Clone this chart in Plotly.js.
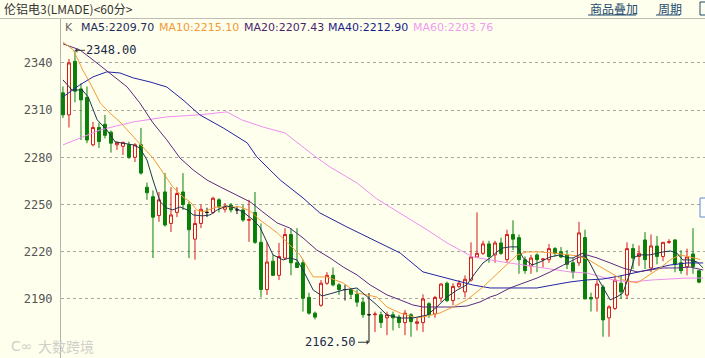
<!DOCTYPE html>
<html>
<head>
<meta charset="utf-8">
<script src="https://cdn.plot.ly/plotly-3.0.1.min.js"></script>
<style>
html,body{margin:0;padding:0;background:#ffffee;}
#chart{width:705px;height:358px;}
</style>
</head>
<body>
<div id="chart"></div>
<script>
// ---- data (60-minute bars, LME aluminium) ----
const openP = [2321,2307,2341,2323.5,2318,2288,2299,2301,2296,2288,
 2287,2288,2280,2288,2261,2255,2243,2258,2238,2245,
 2258,2250,2228,2238,2245,2245,2253,2247,2249.7,2246.6,
 2246.6,2240,2245,2226,2196,2214,2205,2216,2231,2213,
 2213,2191,2181,2186,2200,2205,2199,2196,2196,2193,
 2188,2180,2180,2180,2178,2180,2178.5,2175,2180,2174.5,
 2175,2187,2180.5,2190.6,2200,2189,2198,2194.5,2202,2216.7,
 2219,2225,2218,2225.6,2215,2231,2229,2215,2211,2218,
 2215,2215,2222,2220,2218,2213,2213,2229,2191,2190.6,
 2197.6,2178,2184,2200,2192.5,2222,2217,2227.5,2209.7,2223.6,
 2217,2226,2227.5,2213,2210.5,2218.6,2208];
const highP = [2325,2342.5,2348,2327,2325,2302.5,2302,2307,2297,2290,
 2290,2290,2289,2298.7,2264,2259,2258,2270,2261,2261,
 2270,2252,2246.6,2250,2248,2255,2254,2251,2251,2249,
 2249.7,2253,2258,2238,2226,2218,2225.6,2235,2235,2235,
 2215,2194,2182,2202,2207,2210,2200,2199,2197,2196,
 2191,2193.8,2182,2182,2182,2182,2180,2183,2181,2178,
 2193,2188,2192,2200,2201,2200,2202,2205,2226,2245,
 2227,2227,2227,2229,2234,2240,2231,2217,2218,2219,
 2216,2225,2223,2223,2221,2216,2239,2234,2194,2202,
 2199,2186,2204,2205,2226,2225,2224,2232.5,2231,2230,
 2226,2228,2228,2221,2222,2235,2208];
const lowP = [2305,2299,2315,2291,2289,2287,2286,2292,2283,2284.7,
 2281.5,2279,2277,2269,2253,2216,2239,2236,2232.6,2242,
 2246.6,2216,2215,2235,2242,2244,2245,2245,2245,2244,
 2239,2226.3,2225,2191,2192.6,2205,2202,2215,2205,2210,
 2182,2180,2177,2185,2199,2198,2192.6,2189,2190,2185,
 2178,2162.5,2169,2171.5,2167,2170,2171.5,2167,2166,2170,
 2169,2178,2178,2188,2188,2186,2197,2191,2201,2216,
 2218,2213,2213,2218,2213,2221,2206,2206,2206,2207,
 2210,2213,2217,2216,2209,2203,2211,2190,2182,2182,
 2166,2166,2183,2190,2190,2209,2211,2209,2207,2212,
 2214,2225,2207,2206,2205,2206,2200];
const closeP = [2307,2340,2322,2316.5,2291,2299,2290,2294,2289,2289.5,
 2289.5,2280,2288,2270,2257.5,2242,2253,2237,2243.4,2257,
 2250,2234,2238,2247,2245,2254,2248.5,2249,2246.6,2246.6,
 2240.2,2240.4,2226,2196,2213.5,2205,2217,2231,2213,2210,
 2190.5,2181,2178.5,2200,2205,2199,2196,2196,2193,2188,
 2180,2180,2180.4,2175,2180,2178,2175,2181,2175.6,2175.5,
 2190,2180,2191,2199.5,2189,2198,2200,2202.5,2216.7,2219,
 2225,2217,2225.6,2219,2231,2228,2215,2208,2216,2215,
 2215.4,2222,2219,2216.7,2212,2207,2232,2190,2190,2199.5,
 2176.7,2185,2202,2194.5,2222,2216,2219,2215,2223.7,2217,
 2226,2226.4,2212,2208,2216.7,2210.5,2200.7];

// moving-average lines (bar index, value)
const ma5X = [0,1.5,3.2,4.2,5.7,7.3,8.7,11.7,12.8,14,15,16.2,17.3,18.3,19.5,20.7,21.7,23.3,24.5,25.7,27.3,28.7,30,31.7,32.8,34,35,36.7,37.8,39,40,41.7,43.2,45,46.7,49,50.7,52.3,54,56.2,58.3,60.7,62.3,64,65.7,67.3,68.7,70,71.2,72.3,73.3,74.5,75.7,76.7,78.2,79.5,81.2,82.8,84,85,86.7,87.8,89,90,91.2,92.3,93.3,94.5,95.3,96.2,97.8,100,101.2,102.3,103.3,104.5,105.7,106.7];
const ma5Y = [2329.2,2322.8,2322.8,2318.4,2303.8,2297.4,2289.8,2287.9,2286,2278.3,2265.6,2251.7,2247.8,2246.6,2248.5,2246.6,2243.4,2242.8,2243.4,2246.6,2249.1,2247.8,2245.3,2240.2,2235.8,2225.6,2218,2214.8,2216.1,2214.8,2208.4,2195.7,2191.9,2193.8,2195.7,2197,2191.3,2186.2,2179.8,2177.9,2177.9,2179.8,2184.9,2191.3,2195.7,2199,2206.5,2212.9,2216.1,2219.9,2222.4,2223.1,2223.1,2216.1,2211.6,2213.5,2216.7,2218,2216.1,2216.1,2219.2,2212.9,2204,2197.6,2189.4,2191.3,2193.8,2206.5,2216.7,2218,2218,2219.9,2220.5,2219.2,2214.8,2214.8,2213.5,2209.7];
const ma10X = [0,1.7,3.3,4.5,6.2,7.8,9.5,11.7,13.3,15,16.7,18.3,20,21.2,22.3,23.3,25.7,27.3,29.5,31.2,32.8,34.2,35.7,37.8,39.5,41.7,44,46.7,49,52.3,54,56.2,59,60.7,62.8,65,67.3,70,72.3,74,75.7,77.3,79.5,81.7,84,85.7,87.3,89,91.2,93.3,95.7,97.8,99.5,101.2,102.8,104.5,106.2];
const ma10Y = [2353.3,2348.3,2335.5,2327.3,2314.6,2308.2,2302.5,2293,2286.6,2279.6,2270.1,2261.2,2254.8,2251.7,2246.6,2245.3,2248.5,2248.5,2248.5,2246,2240.2,2236.4,2232,2224.3,2218,2204,2204,2200.2,2193.8,2191.3,2184.9,2181.1,2177.9,2179.2,2181.1,2184.9,2189.4,2197.6,2205.9,2211.6,2218,2219.9,2219.9,2219.2,2218,2217.4,2215.5,2211.6,2206.5,2202.1,2200.2,2205.3,2209.7,2214.8,2218,2216.7,2215.1];
const ma20X = [0,2.8,5,7.8,10.7,12.8,15,17.3,19.5,21.7,24,26.2,28.3,31.2,33.3,35.7,37.8,40,42.3,44.5,46.7,49,51.2,54,56.2,58.3,60,62.8,65,67.3,69.5,71.2,72.3,74.5,76.7,79,81.2,83.3,85.7,87.3,89,91.2,93.3,95.7,97.8,100,102.3,104.5,106.7];
const ma20Y = [2352.1,2348.3,2341.9,2333.6,2324.7,2314.6,2301.9,2291.1,2279.6,2272,2265.6,2261.2,2257.4,2251.7,2245.3,2238.3,2235.1,2228.8,2221.1,2216.1,2210.3,2205.3,2198.9,2192.6,2189.4,2186.2,2184.9,2184.9,2184.9,2185.5,2188.1,2191.3,2192.6,2197,2200.2,2203.3,2207.2,2211.6,2216.1,2218,2216.1,2212.9,2209.7,2207.2,2208.4,2209.7,2209.7,2210.3,2208.4];
const ma40X = [0,2.8,5,7.3,9.5,11.7,14.5,17.3,20,22.8,26.7,30.7,32.3,36.2,40,42.8,47.3,51.7,56.2,60,64,68.3,71.2,79,81.7,84.5,87.3,90,92.8,95.7,98.3,101.2,104,106.7];
const ma40Y = [2318.4,2326,2331.1,2334.3,2333.6,2330.5,2327.9,2324.7,2316.5,2307,2298.7,2289.2,2280.3,2265.6,2254.2,2244.7,2235.8,2227.5,2219.2,2207.2,2203.3,2198.9,2197,2197,2198.9,2200.8,2202.1,2202.7,2204.6,2207.2,2209.1,2211.6,2212.9,2212.9];
const ma60X = [0,6.2,11.7,17.3,22.8,27.3,29.8,33.3,37,41.7,44.5,49,52.3,56.2,60.7,64,68.3,73.3,79,84.5,87.3,91.7,94.5,98.3,104,106.7];
const ma60Y = [2287.9,2297.4,2302.5,2305.7,2307,2308.9,2303.8,2299.3,2295.5,2281.5,2273.9,2263.7,2253.6,2244.7,2233.9,2225.6,2216.7,2213.5,2210.3,2207.2,2206.5,2202.1,2200.8,2202.1,2203.3,2203.3];

const maNames = ['MA5','MA10','MA20','MA40','MA60'];
const maLast = [2209.70, 2215.10, 2207.43, 2212.90, 2203.76];
const yTicks = [2190, 2220, 2250, 2280, 2310, 2340];
const titleText = '伦铝电3(LMADE)<60分>';
const menuItems = ['商品叠加', '周期'];
const watermark = '大数跨境';

// ---- styling ----
const BG = '#ffffee';
const UP = '#d81818';
const DOWN = '#0a7f0a';
const maColors = ['#1e3550', '#f29a36', '#5a2a80', '#2323a6', '#ee8ef0'];
const maLabelColors = ['#1c2c5c', '#f29a36', '#4d1f6e', '#1c1c8c', '#f09cf0'];

const W = 705, H = 358, ML = 61, MT = 19;
const PW = W - ML, PH = H - MT;
const px = x => (x - ML) / PW;
const py = y => (H - y) / PH;

const idx = openP.map((_, i) => i);
function subset(pred) {
  const s = {x: [], open: [], high: [], low: [], close: []};
  idx.forEach(i => {
    if (pred(i)) {
      s.x.push(i); s.open.push(openP[i]); s.high.push(highP[i]);
      s.low.push(lowP[i]); s.close.push(closeP[i]);
    }
  });
  return s;
}
function candle(s, lineColor, fill) {
  return Object.assign({
    type: 'candlestick', hoverinfo: 'skip', whiskerwidth: 0,
    increasing: {line: {color: lineColor, width: 1}, fillcolor: fill},
    decreasing: {line: {color: lineColor, width: 1}, fillcolor: fill}
  }, s);
}

const traces = [];
const maXs = [ma5X, ma10X, ma20X, ma40X, ma60X];
const maYs = [ma5Y, ma10Y, ma20Y, ma40Y, ma60Y];
[4, 3, 2, 1, 0].forEach(k => {
  traces.push({type: 'scatter', mode: 'lines', x: maXs[k], y: maYs[k],
    line: {color: maColors[k], width: 1}, hoverinfo: 'skip'});
});
traces.push(candle(subset(i => closeP[i] > openP[i]), UP, BG));
traces.push(candle(subset(i => closeP[i] < openP[i]), DOWN, DOWN));
traces.push(candle(subset(i => closeP[i] === openP[i]), '#111111', '#111111'));

// extreme labels
let hiI = 0, loI = 0;
highP.forEach((v, i) => { if (v > highP[hiI]) hiI = i; });
lowP.forEach((v, i) => { if (v < lowP[loI]) loI = i; });

const annotations = [
  {x: hiI, y: highP[hiI], xref: 'x', yref: 'y', text: highP[hiI].toFixed(2),
   ax: 37, ay: 0, showarrow: true, arrowhead: 1, arrowsize: 0.8, arrowwidth: 1,
   arrowcolor: '#333', standoff: 0, startstandoff: 0,
   font: {family: 'DejaVu Sans Mono', size: 12, color: '#1a2a4a'}},
  {x: loI, y: lowP[loI], xref: 'x', yref: 'y', text: lowP[loI].toFixed(2),
   ax: -38, ay: 0, showarrow: true, arrowhead: 1, arrowsize: 0.8, arrowwidth: 1,
   arrowcolor: '#333', standoff: 0, startstandoff: 0,
   font: {family: 'DejaVu Sans Mono', size: 12, color: '#1a2a4a'}},
  {x: px(2), y: py(8), xref: 'paper', yref: 'paper', xanchor: 'left', yanchor: 'middle',
   text: titleText, showarrow: false,
   font: {family: 'Noto Sans CJK SC', size: 12, color: '#333'}},
  {x: px(63), y: py(27), xref: 'paper', yref: 'paper', xanchor: 'left', yanchor: 'middle',
   text: 'K', showarrow: false, font: {family: 'DejaVu Sans', size: 11, color: '#666'}},
  {x: px(588), y: py(8), xref: 'paper', yref: 'paper', xanchor: 'left', yanchor: 'middle',
   text: menuItems[0], showarrow: false,
   font: {family: 'Noto Sans CJK SC', size: 12, color: '#1d4a6e'}},
  {x: px(656), y: py(8), xref: 'paper', yref: 'paper', xanchor: 'left', yanchor: 'middle',
   text: menuItems[1], showarrow: false,
   font: {family: 'Noto Sans CJK SC', size: 12, color: '#1d4a6e'}},
  {x: px(36), y: py(346), xref: 'paper', yref: 'paper', xanchor: 'left', yanchor: 'middle',
   text: watermark, showarrow: false,
   font: {family: 'Noto Sans CJK SC', size: 14, color: '#d0d0c8'}},
  {x: px(9), y: py(346), xref: 'paper', yref: 'paper', xanchor: 'left', yanchor: 'middle',
   text: 'C∞', showarrow: false,
   font: {family: 'DejaVu Sans', size: 14, color: '#d0d0c8'}}
];
const maLabelX = [79, 157, 242, 326, 411];
maNames.forEach((n, k) => {
  annotations.push({x: px(maLabelX[k]), y: py(27), xref: 'paper', yref: 'paper',
    xanchor: 'left', yanchor: 'middle', showarrow: false,
    text: n + ':' + maLast[k].toFixed(2),
    font: {family: 'DejaVu Sans', size: 11, color: maLabelColors[k]}});
});

const shapes = [
  {type: 'line', xref: 'paper', yref: 'paper', x0: px(0), x1: px(705), y0: py(18.5), y1: py(18.5),
   line: {color: '#bdbdb5', width: 1}},
  // underline of the menu links
  {type: 'line', xref: 'paper', yref: 'paper', x0: px(588), x1: px(636), y0: py(15), y1: py(15),
   line: {color: '#1d4a6e', width: 1}},
  {type: 'line', xref: 'paper', yref: 'paper', x0: px(656), x1: px(680), y0: py(15), y1: py(15),
   line: {color: '#1d4a6e', width: 1}},
  {type: 'rect', xref: 'paper', yref: 'paper', x0: px(700), x1: px(712), y0: py(15), y1: py(2),
   line: {color: '#1d4a6e', width: 1}, fillcolor: 'rgba(0,0,0,0)'},
  {type: 'rect', xref: 'paper', yref: 'paper', x0: px(700), x1: px(712), y0: py(217), y1: py(198),
   line: {color: '#5a8ad0', width: 1}, fillcolor: '#ffffff'}
];

const layout = {
  width: W, height: H,
  margin: {l: ML, r: 0, t: MT, b: 0, pad: 0},
  paper_bgcolor: BG, plot_bgcolor: BG,
  showlegend: false, dragmode: false,
  xaxis: {range: [-0.33, 107], showgrid: false, zeroline: false, showticklabels: false,
          ticks: '', showline: false, rangeslider: {visible: false}, fixedrange: true},
  yaxis: {range: [2152.5, 2367.9], tickvals: yTicks, ticktext: yTicks.map(String),
          showgrid: true, gridcolor: '#a8a8a0', griddash: 'dot', gridwidth: 1,
          showline: true, linecolor: '#b4b4ac', linewidth: 1, zeroline: false,
          ticks: '', ticklabelstandoff: 5, fixedrange: true,
          tickfont: {family: 'DejaVu Sans Mono', size: 12, color: '#555'}},
  annotations: annotations,
  shapes: shapes
};

Plotly.newPlot('chart', traces, layout, {displayModeBar: false, staticPlot: true});
</script>
</body>
</html>
